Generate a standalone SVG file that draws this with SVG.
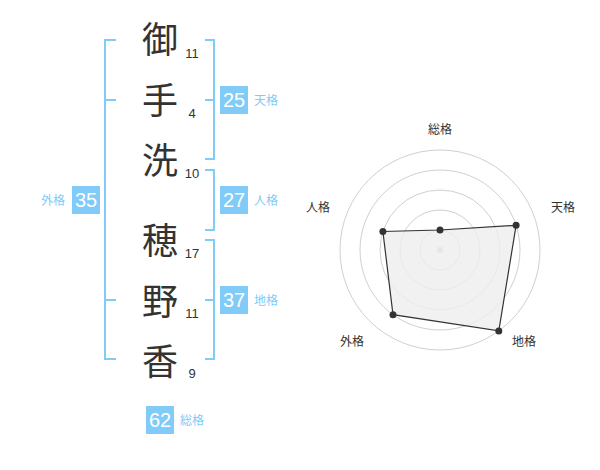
<svg xmlns="http://www.w3.org/2000/svg" width="600" height="470" viewBox="0 0 600 470">
<style>
.kanji{font-family:"Noto Sans CJK JP","Noto Sans CJK SC",sans-serif;font-size:36px;fill:#333;text-anchor:middle}
.num{font-family:"Liberation Sans",Arial,sans-serif;font-size:13px;fill:#333;text-anchor:middle}
.br{fill:none;stroke:#80cbf8;stroke-width:2}
.box{fill:#80cbf8}
.bn{font-family:"Liberation Sans",Arial,sans-serif;font-size:20px;fill:#fff;text-anchor:middle}
.bl{font-family:"Noto Sans CJK JP","Noto Sans CJK SC",sans-serif;font-size:12px;fill:#80cbf8}
.ring{fill:none;stroke:#d0d0d0;stroke-width:1}
.rl{font-family:"Noto Sans CJK JP","Noto Sans CJK SC",sans-serif;font-size:12px;fill:#333;text-anchor:middle}
</style>
<rect width="600" height="470" fill="#fff"/>
<g id="connectors">
<path class="br" d="M116,40 H105 V359 H116 M105,100 H116 M105,300 H116"/>
<path class="br" d="M205,40 H214 V159 H205 M214,100 H205"/>
<path class="br" d="M205,170 H214 V230 H205"/>
<path class="br" d="M205,240 H214 V359 H205 M214,300 H205"/>
</g>
<g id="char1"><text class="kanji" x="160" y="53">御</text><text class="num" x="192" y="58">11</text></g>
<g id="char2"><text class="kanji" x="160" y="114">手</text><text class="num" x="192" y="118">4</text></g>
<g id="char3"><text class="kanji" x="160" y="174">洗</text><text class="num" x="192" y="178">10</text></g>
<g id="char4"><text class="kanji" x="160" y="254">穂</text><text class="num" x="192" y="258">17</text></g>
<g id="char5"><text class="kanji" x="160" y="315">野</text><text class="num" x="192" y="318">11</text></g>
<g id="char6"><text class="kanji" x="160" y="375">香</text><text class="num" x="192" y="378">9</text></g>
<g id="tenkaku"><rect class="box" x="220" y="86" width="28" height="28"/><text class="bn" x="234" y="107">25</text><text class="bl" x="254" y="105">天格</text></g>
<g id="jinkaku"><rect class="box" x="220" y="186" width="28" height="28"/><text class="bn" x="234" y="207">27</text><text class="bl" x="254" y="205">人格</text></g>
<g id="chikaku"><rect class="box" x="220" y="286" width="28" height="28"/><text class="bn" x="234" y="307">37</text><text class="bl" x="254" y="305">地格</text></g>
<g id="gaikaku"><rect class="box" x="72" y="186" width="28" height="28"/><text class="bn" x="86" y="207">35</text><text class="bl" x="41" y="205">外格</text></g>
<g id="soukaku"><rect class="box" x="146" y="406" width="28" height="28"/><text class="bn" x="160" y="427">62</text><text class="bl" x="180" y="425">総格</text></g>
<g id="radar">
<circle class="ring" cx="440" cy="250" r="20"/>
<circle class="ring" cx="440" cy="250" r="40"/>
<circle class="ring" cx="440" cy="250" r="60"/>
<circle class="ring" cx="440" cy="250" r="80"/>
<circle class="ring" cx="440" cy="250" r="100"/>
<circle cx="440" cy="250" r="3" fill="#c8c8c8"/>
<polygon points="440,230 516.1,225.3 498.8,330.9 393,314.7 382.9,231.5" fill="#eeeeee" fill-opacity="0.8" stroke="#333" stroke-width="1.2"/>
<g fill="#333">
<circle cx="440" cy="230" r="3.5"/>
<circle cx="516.1" cy="225.3" r="3.5"/>
<circle cx="498.8" cy="330.9" r="3.5"/>
<circle cx="393" cy="314.7" r="3.5"/>
<circle cx="382.9" cy="231.5" r="3.5"/>
</g>
<text class="rl" x="440" y="134">総格</text>
<text class="rl" x="563" y="212">天格</text>
<text class="rl" x="318" y="212">人格</text>
<text class="rl" x="352" y="346">外格</text>
<text class="rl" x="524" y="346">地格</text>
</g>
</svg>
